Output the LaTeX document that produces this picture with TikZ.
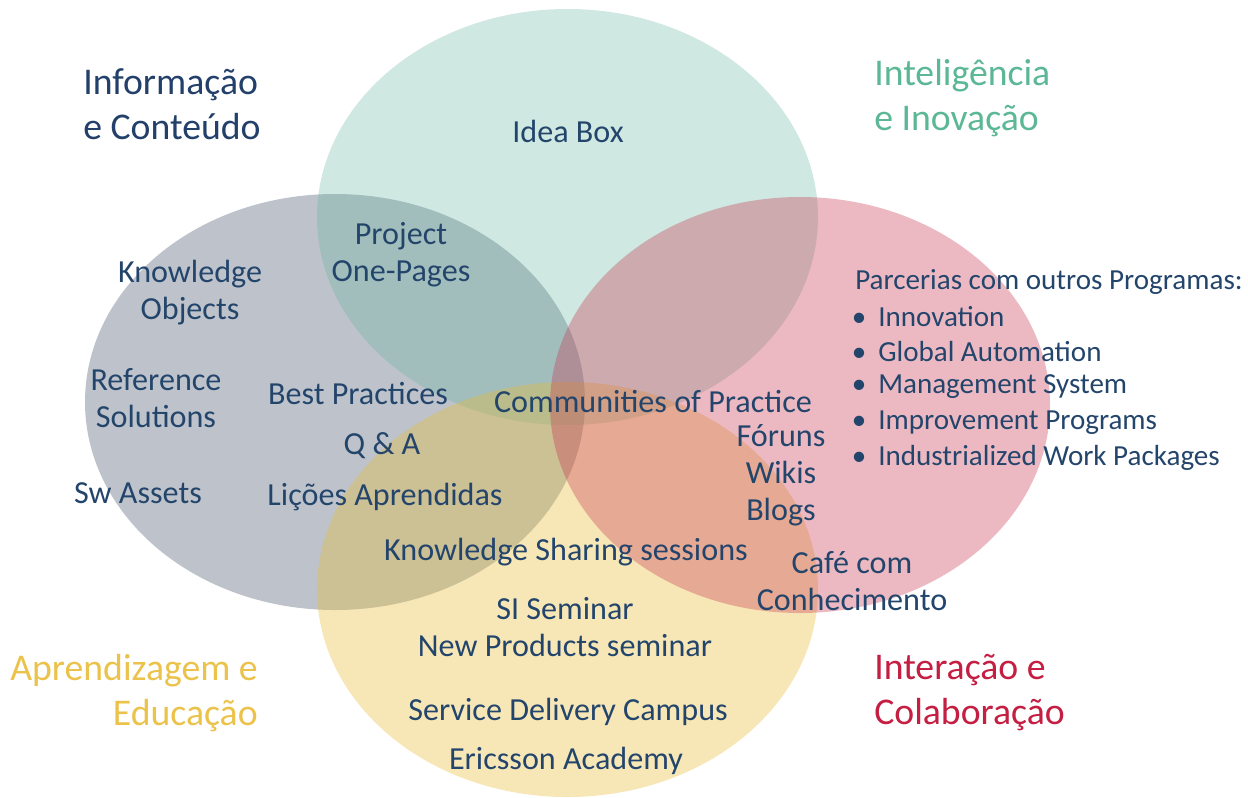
\documentclass[tikz,border=0pt]{standalone}
\usepackage{fontspec}
\setmainfont{Carlito}
\definecolor{txt}{HTML}{24456B}
\definecolor{tblue}{HTML}{22406A}
\definecolor{tteal}{HTML}{5BB795}
\definecolor{tyellow}{HTML}{EBC24A}
\definecolor{tred}{HTML}{C41E42}
\definecolor{cgray}{HTML}{44546A}
\definecolor{cteal}{RGB}{95,178,155}
\definecolor{cpink}{RGB}{200,55,81}
\definecolor{cyellow}{RGB}{232,186,49}
\tikzset{
  item/.style={text=txt,font=\fontsize{24.1}{27.8}\selectfont,align=center,inner sep=0pt},
  ttl/.style={font=\fontsize{28.3}{33.8}\selectfont,inner sep=0pt},
  lst/.style={text=txt,font=\fontsize{21.8}{26.3}\selectfont,inner sep=0pt,anchor=west},
}
\begin{document}
\begin{tikzpicture}[x=0.75pt,y=-0.75pt]
\useasboundingbox (0,0) rectangle (1248,797);
\fill[cgray,opacity=0.35] (335,402) ellipse [x radius=250,y radius=208];
\fill[cteal,opacity=0.30] (567.5,217) ellipse [x radius=250.5,y radius=208];
\fill[cyellow,opacity=0.35] (567.5,589.5) ellipse [x radius=250.5,y radius=207.5];
\fill[cpink,opacity=0.35] (800,405) ellipse [x radius=250,y radius=208];

% titles
\node[ttl,text=tblue,anchor=west,align=left] (t1) at (83,104) {Informação\\e Conteúdo};
\node[ttl,text=tteal,anchor=west,align=left] (t2) at (874,98) {Inteligência\\e Inovação};
\node[ttl,text=tyellow,anchor=east,align=right] (t3) at (258,693) {Aprendizagem e\\Educação};
\node[ttl,text=tred,anchor=west,align=left] (t4) at (874,693) {Interação e\\Colaboração};

% items
\node[item] (ib) at (568,131) {Idea Box};
\node[item] (pop) at (401,255) {Project\\One-Pages};
\node[item] (ko) at (190,293) {Knowledge\\Objects};
\node[item] (rs) at (156,398) {Reference\\Solutions};
\node[item] (sw) at (138,493) {Sw Assets};
\node[item] (bp) at (358,393) {Best Practices};
\node[item] (qa) at (382,446) {Q \& A};
\node[item] (la) at (385,497) {Lições Aprendidas};
\node[item] (cop) at (653,401) {Communities of Practice};
\node[item] (fwb) at (781,475) {Fóruns\\Wikis\\Blogs};
\node[item] (kss) at (566,552) {Knowledge Sharing sessions};
\node[item] (cafe) at (852,581) {Café com\\Conhecimento};
\node[item] (si) at (565,627) {SI Seminar\\New Products seminar};
\node[item] (sdc) at (568,712) {Service Delivery Campus};
\node[item] (ea) at (566,761) {Ericsson Academy};

% list
\node[lst] (par) at (855,282) {Parcerias com outros Programas:};
\node[lst] (l1) at (878,317) {\llap{•\hspace{9pt}}Innovation};
\node[lst] (l2) at (878,352) {\llap{•\hspace{9pt}}Global Automation};
\node[lst] (l3) at (878,387) {\llap{•\hspace{9pt}}Management System};
\node[lst] (l4) at (878,423) {\llap{•\hspace{9pt}}Improvement Programs};
\node[lst] (l5) at (878,458) {\llap{•\hspace{9pt}}Industrialized Work Packages};
\end{tikzpicture}
\end{document}
